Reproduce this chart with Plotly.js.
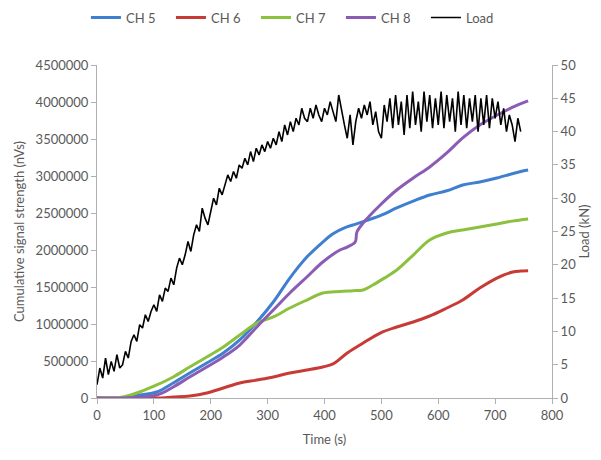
<!DOCTYPE html>
<html><head><meta charset="utf-8">
<script src="https://cdn.plot.ly/plotly-3.0.1.min.js"></script>
<style>html,body{margin:0;padding:0;background:#fff}#chart{width:601px;height:460px}</style>
</head><body><div id="chart"></div>
<script>
// CH 5
const ch5Time = [0,45,75,105,134,163,193,222,251,281,310,339,369,397,415,435,455,475,500,527,556,585,615,643,673,703,730,745,758];
const ch5Vals = [0,0,40000,81000,203000,338000,473000,608000,784000,1027000,1297000,1621000,1905000,2108000,2220000,2300000,2350000,2400000,2470000,2568000,2660000,2743000,2800000,2878000,2920000,2973000,3030000,3060000,3081000];
// CH 6
const ch6Time = [0,60,105,134,163,193,222,251,281,310,339,369,397,415,440,468,498,527,556,585,615,643,673,703,731,745,758];
const ch6Vals = [0,0,0,13000,27000,67000,135000,203000,243000,284000,338000,378000,419000,460000,608000,743000,878000,959000,1027000,1108000,1216000,1324000,1486000,1621000,1703000,1716000,1720000];
// CH 7
const ch7Time = [0,28,46,75,105,134,163,193,222,251,281,310,339,369,397,427,450,468,485,505,527,556,585,615,643,673,703,730,758];
const ch7Vals = [0,0,13000,81000,176000,284000,419000,554000,689000,851000,1013000,1095000,1216000,1324000,1419000,1440000,1450000,1460000,1527000,1620000,1730000,1932000,2135000,2230000,2270000,2311000,2351000,2390000,2419000];
// CH 8
const ch8Time = [0,46,105,134,163,193,222,251,281,310,339,369,397,427,440,454,457,468,498,527,556,585,615,643,673,714,740,758];
const ch8Vals = [0,0,40000,149000,284000,419000,554000,716000,960000,1189000,1419000,1635000,1838000,2000000,2040000,2108000,2243000,2365000,2608000,2811000,2973000,3122000,3311000,3514000,3689000,3865000,3960000,4014000];
// Load (kN), every 5 s
const loadStart = 0, loadStep = 5;
const loadVals = [2.0,4.5,3.0,6.0,3.5,5.5,4.0,6.5,4.5,5.0,7.0,6.0,8.5,9.5,8.5,11.0,10.5,12.5,11.5,13.0,
14.0,13.0,15.5,14.5,16.5,16.0,18.0,17.0,19.5,21.0,20.0,21.5,23.5,22.0,24.5,26.0,25.0,28.5,27.0,26.0,
28.0,30.0,29.0,31.5,30.5,32.0,33.5,32.5,34.0,33.0,35.0,34.5,36.0,35.0,37.0,35.5,37.5,36.5,38.0,37.0,
38.5,37.5,39.0,38.0,40.0,38.5,41.0,39.5,41.5,40.0,42.0,41.0,43.5,42.0,41.5,43.5,42.0,44.0,42.5,41.5,
43.5,42.5,44.5,43.0,41.5,45.5,43.0,41.0,39.0,42.5,38.0,41.5,43.5,42.0,44.0,42.5,44.5,41.0,43.0,40.0,
39.0,44.0,41.5,45.0,40.5,45.5,41.0,44.5,39.5,45.5,40.5,46.0,41.0,44.5,40.0,46.0,41.5,45.5,40.5,45.0,
41.0,46.0,40.5,45.5,41.5,45.0,40.0,46.0,41.0,45.5,40.5,45.0,41.5,45.5,40.0,45.0,41.0,45.5,40.5,45.0,
42.0,44.5,41.0,43.5,40.0,42.5,41.0,38.5,42.0,40.0];
const loadTime = loadVals.map((_, i) => loadStart + i * loadStep);

const xTicks = [0,100,200,300,400,500,600,700,800];
const font = 'Lato, "Open Sans", sans-serif';
const txt = '#595959';
const axisGray = '#b0b0b0';

const traces = [
  {x: ch5Time, y: ch5Vals, name: 'CH 5', mode: 'lines', line: {color: '#3f7fcf', width: 3, shape: 'spline'}},
  {x: ch6Time, y: ch6Vals, name: 'CH 6', mode: 'lines', line: {color: '#c83a36', width: 3, shape: 'spline'}},
  {x: ch7Time, y: ch7Vals, name: 'CH 7', mode: 'lines', line: {color: '#8cc03f', width: 3, shape: 'spline'}},
  {x: ch8Time, y: ch8Vals, name: 'CH 8', mode: 'lines', line: {color: '#8a5cb5', width: 3, shape: 'spline'}},
  {x: loadTime, y: loadVals, name: 'Load', mode: 'lines', yaxis: 'y2', line: {color: '#000000', width: 1.6}}
];

const layout = {
  width: 601, height: 460,
  margin: {l: 97, r: 49, t: 65, b: 62, autoexpand: false},
  paper_bgcolor: '#ffffff', plot_bgcolor: '#ffffff',
  font: {family: font, size: 13, color: txt},
  showlegend: true,
  legend: {orientation: 'h', xref: 'container', x: 0.143, xanchor: 'left',
           yref: 'container', y: 0.962, yanchor: 'middle',
           font: {family: font, size: 13, color: txt}, entrywidth: 40, entrywidthmode: 'pixels',
           traceorder: 'normal'},
  xaxis: {range: [0, 800], tickvals: xTicks, showgrid: false, zeroline: false,
          showline: true, linecolor: axisGray, linewidth: 1, ticks: 'outside', ticklen: 5, tickcolor: axisGray,
          tickfont: {size: 13, color: txt},
          title: {text: 'Time (s)', font: {size: 13, color: txt}, standoff: 13}},
  yaxis: {range: [0, 4500000], dtick: 500000, tickformat: 'd', showgrid: false, zeroline: false,
          showline: true, linecolor: axisGray, linewidth: 1, ticks: 'outside', ticklen: 5, tickcolor: axisGray,
          tickfont: {size: 13, color: txt},
          title: {text: 'Cumulative signal strength (nVs)', font: {size: 13, color: txt}, standoff: 8}},
  yaxis2: {range: [0, 50], dtick: 5, overlaying: 'y', side: 'right', showgrid: false, zeroline: false,
           showline: true, linecolor: axisGray, linewidth: 1, ticks: 'outside', ticklen: 5, tickcolor: axisGray,
           tickfont: {size: 13, color: txt},
           title: {text: 'Load (kN)', font: {size: 13, color: txt}, standoff: 4}}
};

Plotly.newPlot('chart', traces, layout, {displayModeBar: false, staticPlot: true});
</script></body></html>
